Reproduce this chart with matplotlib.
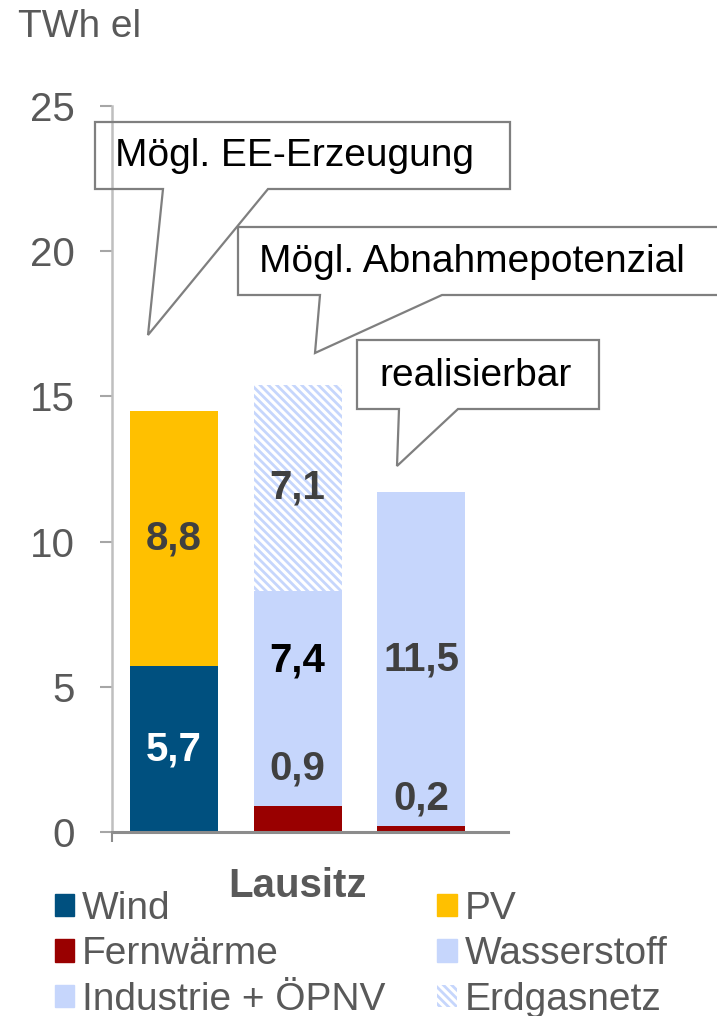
import matplotlib
matplotlib.use('Agg')
import matplotlib.pyplot as plt
from matplotlib.patches import Polygon, Patch

plt.rcParams['font.family'] = ['Liberation Sans', 'DejaVu Sans']
plt.rcParams['hatch.linewidth'] = 2.0

# Daten
bars = ['Mögl. EE-Erzeugung', 'Mögl. Abnahmepotenzial', 'realisierbar']
region = 'Lausitz'
wind = [5.7, 0, 0]
pv = [8.8, 0, 0]
fernwaerme = [0, 0.9, 0.2]
wasserstoff = [0, 7.4, 0]
industrie = [0, 0, 11.5]
erdgas = [0, 7.1, 0]
yticks = [0, 5, 10, 15, 20, 25]

W, H = 717, 1016
grey = '#595959'
blue_light = '#C6D6FC'


def fx(x):
    return x / W


def fy(y):
    return 1 - y / H


fig = plt.figure(figsize=(W / 100, H / 100), dpi=100)
ax = fig.add_axes([fx(112), fy(832), fx(508) - fx(112), fy(106) - fy(832)])

series = [
    ('Wind', wind, dict(color='#00507F')),
    ('PV', pv, dict(color='#FFC000')),
    ('Fernwärme', fernwaerme, dict(color='#990000')),
    ('Wasserstoff', wasserstoff, dict(color=blue_light)),
    ('Industrie + ÖPNV', industrie, dict(color=blue_light)),
    ('Erdgasnetz', erdgas, dict(facecolor='white', edgecolor=blue_light, hatch='\\\\\\\\', linewidth=0)),
]
# Beschriftung: Farbe und vertikale Verschiebung gegenüber Segmentmitte
label_style = {
    'Wind': ('white', 0),
    'PV': ('#404040', 0),
    'Fernwärme': ('#404040', None),
    'Wasserstoff': ('black', 1.3),
    'Industrie + ÖPNV': ('#404040', 0),
    'Erdgasnetz': ('#404040', 0),
}
fern_label_y = [0, 2.2, 1.15]

x = list(range(len(bars)))
bottom = [0.0] * len(bars)
handles = {}
for name, vals, style in series:
    b = ax.bar(x, vals, width=0.71, bottom=bottom, zorder=2, **style)
    handles[name] = Patch(**style)
    col, off = label_style[name]
    for i, v in enumerate(vals):
        if v > 0:
            if off is None:
                yl = fern_label_y[i]
            else:
                yl = bottom[i] + v / 2 + off
            ax.text(x[i], yl, f'{v:.1f}'.replace('.', ','), ha='center', va='center',
                    fontsize=29, fontweight='bold', color=col, zorder=5)
    bottom = [bottom[i] + vals[i] for i in range(len(bars))]

ax.set_xlim(-0.5, 2.7)
ax.set_ylim(0, 25)
ax.set_yticks(yticks)
ax.set_yticklabels([str(t) for t in yticks])
ax.set_xticks([1])
ax.set_xticklabels([region], fontweight='bold')
ax.set_xticks([-0.5], minor=True)
ax.tick_params(axis='x', which='major', length=0, pad=25, labelsize=29, labelcolor=grey)
ax.tick_params(axis='x', which='minor', length=7, width=1.5, color='#8C8C8C')
ax.tick_params(axis='y', length=9, width=1.5, color='#A6A6A6', pad=18, labelsize=29, labelcolor=grey)
for s in ['top', 'right']:
    ax.spines[s].set_visible(False)
ax.spines['left'].set_color('#BFBFBF')
ax.spines['left'].set_linewidth(1.8)
ax.spines['bottom'].set_color('#8C8C8C')
ax.spines['bottom'].set_linewidth(2.2)
ax.spines['bottom'].set_zorder(4)

fig.text(fx(18), fy(27), 'TWh el', fontsize=28, color=grey, ha='left', va='center')

# Sprechblasen (Pixelkoordinaten)
callouts = [
    (bars[0], (95, 510, 122, 189), (163, 268), (148, 335), (115, 156)),
    (bars[1], (238, 725, 227, 295), (320, 442), (315, 353), (259, 262)),
    (bars[2], (357, 599, 340, 409), (399, 458), (397, 466), (379, 376)),
]
for text, (l, r, t, b), (tl, tr), tip, (tx, ty) in callouts:
    pts = [(l, t), (r, t), (r, b), (tr, b), tip, (tl, b), (l, b)]
    poly = Polygon([(fx(px), fy(py)) for px, py in pts], closed=True, transform=fig.transFigure,
                   facecolor='none', edgecolor='#7F7F7F', linewidth=1.6, zorder=6)
    fig.patches.append(poly)
    fig.text(fx(tx), fy(ty), text, fontsize=28, color='black', ha='left', va='center')

order = ['Wind', 'Fernwärme', 'Industrie + ÖPNV', 'PV', 'Wasserstoff', 'Erdgasnetz']
fig.legend([handles[n] for n in order], order, loc='upper left',
           bbox_to_anchor=(fx(55), fy(891)), ncol=2, frameon=False, fontsize=28,
           handlelength=0.5, handleheight=0.5, handletextpad=0.2, columnspacing=1.33,
           labelspacing=0.24, borderpad=0, borderaxespad=0, labelcolor=grey)

fig.savefig('out.png', dpi=100)
